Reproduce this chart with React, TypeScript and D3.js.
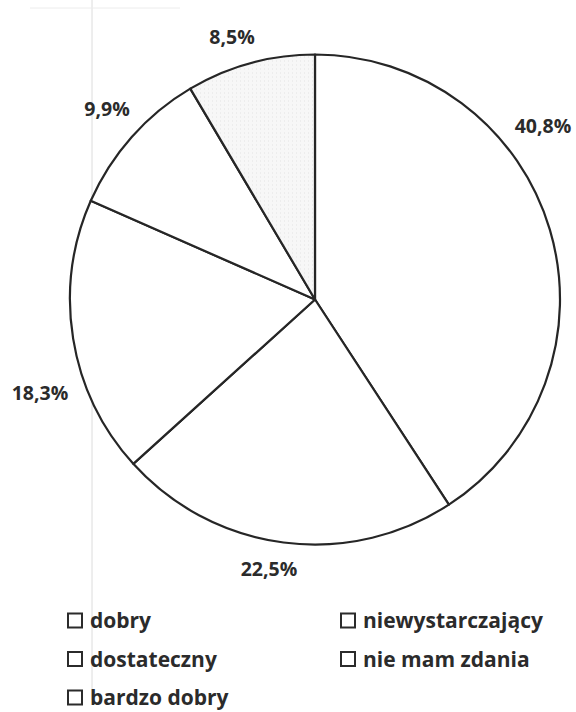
import React from "react";
import * as d3 from "d3";

const categories = ["dobry", "dostateczny", "bardzo dobry", "niewystarczający", "nie mam zdania"];
const values = [40.8, 22.5, 18.3, 9.9, 8.5];
const labels = ["40,8%", "22,5%", "18,3%", "9,9%", "8,5%"];

// layout: label centers (px) chosen like Excel's best-fit placement
const labelPos: [number, number][] = [
  [543, 125],
  [269, 568],
  [40, 392],
  [107, 108],
  [232, 36],
];

const W = 576;
const H = 712;
const cx = 315;
const cy = 299.5;
const R = 245;

export default function App() {
  const pie = d3.pie<number>().sort(null).value((d) => d)(values);
  const arc = d3.arc<d3.PieArcDatum<number>>().innerRadius(0).outerRadius(R);
  const fills = ["#ffffff", "#ffffff", "#ffffff", "#ffffff", "#f3f3f3"];
  const font = "'Open Sans', Lato, sans-serif";
  const legendCols = [
    [0, 1, 2],
    [3, 4],
  ];
  const colX = [67, 340];
  const rowY = (i: number) => 613 + i * 38.5;
  return (
    <svg width={W} height={H} style={{ position: "absolute", left: 0, top: 0, background: "#fff" }}>
      <defs>
        <pattern id="dots" width="4" height="4" patternUnits="userSpaceOnUse">
          <rect width="4" height="4" fill="#f7f7f7" />
          <rect x="1" y="1" width="1" height="1" fill="#e2e2e2" />
        </pattern>
      </defs>
      <rect width={W} height={H} fill="#fff" />
      {/* faint scan artifacts */}
      <line x1={92} y1={0} x2={92} y2={700} stroke="#dcdcdc" strokeWidth={1} />
      <line x1={30} y1={8} x2={180} y2={8} stroke="#ececec" strokeWidth={1} />
      <g transform={`translate(${cx},${cy})`}>
        {pie.map((p, i) => (
          <path
            key={i}
            d={arc(p) || ""}
            fill={i === 4 ? "url(#dots)" : fills[i]}
            stroke="#262626"
            strokeWidth={2.2}
            strokeLinejoin="round"
          />
        ))}
      </g>
      {labels.map((t, i) => (
        <text
          key={i}
          x={labelPos[i][0]}
          y={labelPos[i][1]}
          textAnchor="middle"
          dominantBaseline="central"
          fontFamily={font}
          fontWeight={700}
          fontSize={19.5}
          fill="#2b2b2b"
        >
          {t}
        </text>
      ))}
      {legendCols.map((col, c) =>
        col.map((idx, r) => (
          <g key={idx}>
            <rect
              x={colX[c] + 1}
              y={rowY(r) + 0.5}
              width={14}
              height={14}
              fill="#fff"
              stroke="#2b2b2b"
              strokeWidth={2}
            />
            <text
              x={colX[c] + 23}
              y={rowY(r) + 15}
              fontFamily={font}
              fontWeight={700}
              fontSize={21}
              fill="#2b2b2b"
            >
              {categories[idx]}
            </text>
          </g>
        ))
      )}
    </svg>
  );
}
